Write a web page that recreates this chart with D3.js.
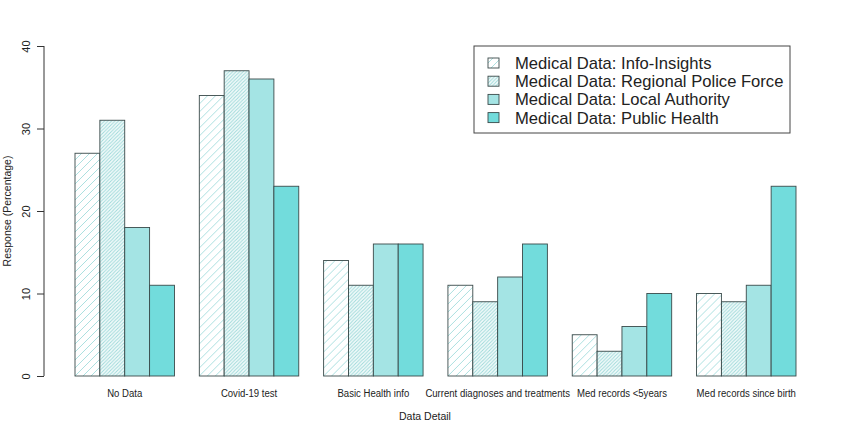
<!DOCTYPE html>
<html>
<head>
<meta charset="utf-8">
<script src="https://cdn.jsdelivr.net/npm/d3@7"></script>
<style>
body { margin: 0; background: #fff; }
text { font-family: "Liberation Sans", Arial, sans-serif; fill: #222; }
</style>
</head>
<body>
<script>
var categories = ["No Data", "Covid-19 test", "Basic Health info", "Current diagnoses and treatments", "Med records <5years", "Med records since birth"];
var seriesNames = ["Medical Data: Info-Insights", "Medical Data: Regional Police Force", "Medical Data: Local Authority", "Medical Data: Public Health"];
var infoInsights = [27, 34, 14, 11, 5, 10];
var policeForce = [31, 37, 11, 9, 3, 9];
var localAuthority = [18, 36, 16, 12, 6, 11];
var publicHealth = [11, 23, 16, 16, 10, 23];
var yTicks = [0, 10, 20, 30, 40];

var seriesValues = [infoInsights, policeForce, localAuthority, publicHealth];
var width = 850, height = 434;

var svg = d3.select("body").append("svg")
    .attr("width", width)
    .attr("height", height);

// fills that mimic R's density/angle shading
var defs = svg.append("defs");
function hatch(id, gap, color, bg) {
    var p = defs.append("pattern")
        .attr("id", id)
        .attr("patternUnits", "userSpaceOnUse")
        .attr("width", gap)
        .attr("height", gap);
    p.append("rect").attr("width", gap).attr("height", gap).attr("fill", bg);
    p.append("path")
        .attr("d", "M" + (-gap) + "," + gap + "L" + gap + "," + (-gap) + "M0," + (2 * gap) + "L" + (2 * gap) + ",0M0," + gap + "L" + gap + ",0")
        .attr("stroke", color)
        .attr("stroke-width", 0.9);
}
hatch("h1", 8, "#a3dcdc", "#ffffff");
hatch("h2", 3.5, "#9ad8d8", "#f4fbfb");
var fills = ["url(#h1)", "url(#h2)", "#a4e4e4", "#72dcdc"];

var x0 = d3.scaleBand()
    .domain(categories)
    .range([75, 796])
    .paddingInner(0.2)
    .paddingOuter(0);

var x1 = d3.scaleBand()
    .domain(d3.range(seriesValues.length))
    .range([0, x0.bandwidth()]);

var y = d3.scaleLinear()
    .domain([0, 40])
    .range([376, 46]);

var groups = svg.append("g")
    .selectAll("g")
    .data(categories)
    .enter().append("g")
    .attr("transform", d => "translate(" + x0(d) + ",0)");

groups.selectAll("rect")
    .data((d, i) => seriesValues.map((s, j) => ({ s: j, v: s[i] })))
    .enter().append("rect")
    .attr("x", d => x1(d.s))
    .attr("y", d => y(d.v))
    .attr("width", x1.bandwidth())
    .attr("height", d => y(0) - y(d.v))
    .attr("fill", d => fills[d.s])
    .attr("stroke", "#3a4a4a")
    .attr("stroke-width", 0.9);

// y axis
var yAxis = svg.append("g")
    .attr("transform", "translate(44,0)")
    .call(d3.axisLeft(y).tickValues(yTicks).tickSize(7).tickPadding(0).tickFormat(d3.format("d")));
yAxis.select(".domain").attr("stroke", "#333").attr("d", "M0," + y(0) + "V" + y(40));
yAxis.selectAll(".tick line").attr("stroke", "#333");
yAxis.selectAll(".tick text")
    .attr("x", 0).attr("dy", null)
    .attr("transform", "translate(-14,0) rotate(-90)")
    .attr("text-anchor", "middle")
    .style("font-size", "11px")
    .style("font-family", "Liberation Sans, Arial, sans-serif")
    .attr("fill", "#222");

svg.append("text")
    .attr("transform", "translate(11," + (y(20)) + ") rotate(-90)")
    .attr("text-anchor", "middle")
    .style("font-size", "10.5px")
    .text("Response (Percentage)");

// category labels, slightly condensed like the original
svg.append("g").selectAll("text")
    .data(categories)
    .enter().append("text")
    .attr("transform", d => "translate(" + (x0(d) + x0.bandwidth() / 2) + ",397) scale(0.87,1)")
    .attr("text-anchor", "middle")
    .style("font-size", "11px")
    .text(d => d);

svg.append("text")
    .attr("x", 425)
    .attr("y", 420)
    .attr("text-anchor", "middle")
    .style("font-size", "10.5px")
    .text("Data Detail");

// legend
var legend = svg.append("g");
legend.append("rect")
    .attr("x", 474).attr("y", 46)
    .attr("width", 316).attr("height", 87)
    .attr("fill", "#fff")
    .attr("stroke", "#444")
    .attr("stroke-width", 1);
var items = legend.selectAll("g.item")
    .data(seriesNames)
    .enter().append("g")
    .attr("class", "item")
    .attr("transform", (d, i) => "translate(0," + (63 + i * 18.2) + ")");
items.append("rect")
    .attr("x", 488).attr("y", -5)
    .attr("width", 11).attr("height", 10)
    .attr("fill", (d, i) => fills[i])
    .attr("stroke", "#3a4a4a")
    .attr("stroke-width", 0.9);
items.append("text")
    .attr("x", 515).attr("y", 6)
    .style("font-size", "16.6px")
    .text(d => d);
</script>
</body>
</html>
